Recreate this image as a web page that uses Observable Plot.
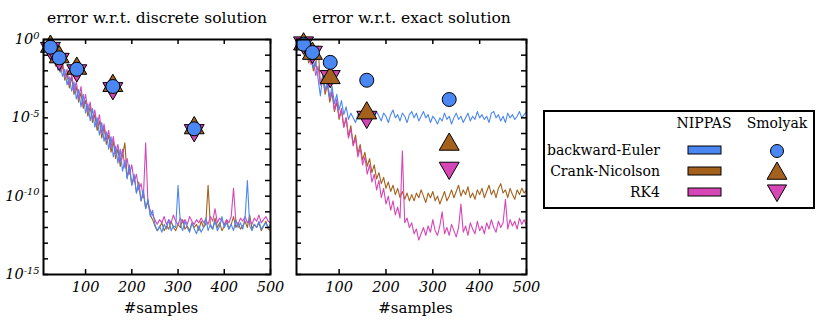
<!DOCTYPE html>
<html><head><meta charset="utf-8">
<script src="https://cdn.jsdelivr.net/npm/d3@7"></script>
<script src="https://cdn.jsdelivr.net/npm/@observablehq/plot@0.6"></script>
<style>
html,body{margin:0;padding:0;background:#fff;}
#wrap{position:relative;width:830px;height:324px;overflow:hidden;font-family:"DejaVu Serif",serif;}
#wrap svg{position:absolute;top:0;}
</style></head><body><div id="wrap"></div>
<script>
const FONT = "DejaVu Serif";
// sample counts (x grid of the NIPPAS curves)
const samples = d3.range(10, 501, 5);
// log10 of the error
const discBE = [-0.3,-0.45,-0.95,-0.7,-1.45,-1.1,-1.95,-1.5,-2.35,-1.9,
-2.9,-2.4,-3.3,-2.7,-3.8,-3.2,-4.3,-3.5,-4.7,-4.1,
-5.2,-4.4,-5.6,-5.0,-6.1,-5.3,-6.5,-5.9,-7.0,-6.2,
-7.5,-6.8,-7.9,-7.0,-8.4,-7.7,-8.9,-8.0,-9.3,-8.6,
-9.8,-9.2,-10.3,-9.6,-10.8,-10.2,-11.3,-10.9,-11.8,-12.2,
-11.9,-12.3,-11.8,-12.1,-11.5,-12.2,-11.9,-12.0,-9.3,-11.8,
-12.2,-11.6,-12.0,-12.3,-11.7,-12.1,-12.4,-11.9,-12.3,-12.0,
-11.4,-12.2,-11.8,-12.1,-11.6,-12.2,-11.9,-11.3,-12.0,-11.7,
-12.1,-11.8,-12.2,-11.5,-12.0,-11.7,-12.1,-11.4,-9.0,-11.9,
-12.2,-11.8,-12.0,-11.6,-12.1,-11.9,-11.7,-12.0,-11.8];
const discCN = [-0.2,-0.7,-0.5,-1.2,-0.9,-1.7,-1.2,-2.1,-1.7,-2.6,
-2.2,-3.1,-2.4,-3.5,-3.0,-4.0,-3.4,-4.4,-3.9,-4.9,
-4.3,-5.3,-4.8,-5.8,-5.2,-6.3,-5.6,-6.7,-6.1,-7.2,
-6.5,-7.6,-7.0,-8.1,-7.4,-6.6,-8.8,-8.2,-9.3,-8.7,
-9.8,-9.1,-10.3,-9.8,-10.8,-10.3,-11.2,-11.5,-11.9,-12.2,
-12.0,-11.7,-12.2,-11.9,-12.1,-11.6,-12.0,-12.2,-11.8,-12.0,
-11.5,-12.1,-11.9,-12.2,-11.7,-12.0,-11.8,-12.2,-11.6,-12.0,
-11.8,-9.3,-11.9,-12.1,-11.4,-12.0,-11.7,-12.2,-11.9,-11.5,
-12.1,-11.8,-11.3,-12.0,-11.7,-12.1,-11.9,-11.6,-12.0,-11.2,
-12.1,-11.8,-12.0,-11.7,-12.2,-11.9,-11.6,-12.1,-12.2];
const discRK = [-0.15,-0.6,-0.4,-1.1,-0.7,-1.6,-1.0,-2.0,-1.4,-2.4,
-1.9,-2.9,-2.2,-3.3,-2.7,-3.8,-3.0,-4.2,-3.5,-4.6,
-4.0,-5.1,-4.5,-5.5,-4.8,-6.0,-5.4,-6.4,-5.8,-6.9,
-6.2,-7.3,-6.7,-7.8,-7.0,-8.2,-7.6,-8.6,-8.0,-9.1,
-8.6,-9.6,-9.2,-10.1,-6.6,-10.5,-10.9,-11.2,-11.5,-11.8,
-11.5,-11.7,-11.3,-11.8,-11.5,-11.7,-11.2,-11.6,-11.8,-11.4,
-11.7,-11.5,-11.8,-11.3,-11.6,-11.8,-11.5,-11.7,-11.4,-11.7,
-11.5,-11.8,-11.3,-11.6,-10.8,-11.7,-11.4,-11.6,-11.8,-11.5,
-11.7,-11.3,-9.5,-11.6,-11.8,-11.4,-11.6,-11.3,-11.7,-11.5,
-11.8,-11.4,-11.6,-11.2,-11.7,-11.5,-11.3,-11.6,-11.7];
const exactBE = [-0.1,-0.4,-0.2,-0.8,-0.5,-1.3,-0.9,-1.8,-1.4,-2.5,
-3.6,-2.3,-3.2,-2.7,-3.7,-3.0,-4.1,-3.5,-4.5,-3.9,
-4.8,-4.3,-5.1,-4.7,-5.0,-5.3,-4.8,-5.0,-4.6,-5.1,
-4.9,-5.3,-4.7,-5.0,-4.6,-4.9,-5.2,-4.7,-4.9,-5.3,
-4.8,-4.5,-5.0,-4.8,-5.2,-4.7,-4.9,-5.3,-4.8,-4.6,
-5.0,-4.7,-5.2,-4.9,-4.6,-5.0,-4.8,-5.3,-4.9,-5.1,
-5.4,-5.0,-5.2,-4.7,-5.1,-4.9,-5.4,-5.0,-4.7,-5.1,
-4.9,-5.3,-5.0,-4.7,-5.2,-4.9,-5.1,-4.6,-5.0,-4.8,
-5.1,-4.9,-5.3,-4.7,-4.6,-5.0,-4.8,-5.2,-4.9,-5.3,
-4.7,-5.0,-4.8,-5.1,-4.9,-4.6,-5.0,-4.8,-4.6];
const exactCN = [-0.1,-0.5,-0.2,-1.0,-0.7,-1.5,-1.1,-2.0,-1.6,-0.4,
-2.9,-2.4,-3.5,-2.9,-4.0,-3.4,-4.6,-4.0,-5.1,-4.5,
-5.6,-5.0,-6.2,-5.5,-6.7,-6.1,-7.3,-6.7,-7.7,-7.2,
-8.1,-7.6,-8.5,-8.0,-8.9,-8.5,-9.2,-8.8,-9.5,-9.1,
-9.7,-9.3,-9.9,-9.5,-10.1,-9.7,-10.2,-9.8,-10.3,-9.9,
-10.3,-9.8,-10.1,-9.6,-10.0,-10.4,-9.8,-10.1,-9.7,-10.3,
-10.0,-10.5,-10.1,-9.7,-10.3,-10.0,-9.6,-10.1,-9.7,-9.3,
-10.0,-9.6,-9.9,-9.4,-10.1,-9.8,-10.2,-9.6,-9.9,-9.5,
-10.1,-9.7,-9.3,-9.9,-9.6,-10.1,-9.5,-9.2,-9.8,-9.6,
-10.1,-9.5,-9.9,-10.2,-9.6,-9.9,-9.5,-9.8,-9.6];
const exactRK = [-0.2,-0.05,-0.7,-0.4,-1.2,-0.9,-1.6,-1.2,-2.3,-1.7,
-2.9,-2.3,-3.3,-2.8,-3.8,-3.3,-4.5,-3.8,-5.0,-4.4,
-5.6,-5.0,-6.3,-5.7,-6.8,-6.3,-7.5,-6.9,-8.0,-7.5,
-8.6,-8.0,-9.1,-8.6,-9.6,-9.0,-10.1,-9.5,-10.5,-10.0,
-10.9,-10.3,-11.2,-10.7,-11.4,-7.1,-11.7,-11.4,-12.0,-11.7,
-12.4,-12.1,-12.8,-12.4,-12.0,-12.5,-11.9,-12.3,-11.5,-12.2,
-12.5,-11.9,-11.0,-12.4,-12.0,-12.5,-11.8,-12.2,-12.6,-12.0,
-10.5,-12.3,-11.9,-12.5,-11.7,-12.1,-12.4,-11.6,-12.2,-11.9,
-12.4,-11.7,-12.1,-11.5,-12.0,-12.3,-11.6,-12.0,-11.7,-10.2,
-12.1,-11.5,-11.9,-11.6,-12.1,-11.4,-11.8,-11.5,-11.9];
// Smolyak points
const smolyakN = [24, 43, 81, 159, 335];
const discSmolBE = [-0.49, -1.17, -1.9, -3.0, -5.7];
const discSmolCN = [-0.45, -1.12, -1.85, -2.95, -5.65];
const discSmolRK = [-0.55, -1.25, -1.98, -3.12, -5.8];
const exactSmolBE = [-0.3, -0.83, -1.46, -2.6, -3.83];
const exactSmolCN = [-0.3, -0.9, -2.45, -4.7, -6.7];
const exactSmolRK = [-0.2, -0.8, -2.35, -4.95, -8.2];
// ticks and labels
const xTicks = [100, 200, 300, 400, 500];
const yDecades = [0,-1,-2,-3,-4,-5,-6,-7,-8,-9,-10,-11,-12,-13,-14,-15];
const yLabelExp = [0, -5, -10, -15];
const methods = ["backward-Euler", "Crank-Nicolson", "RK4"];
const colors = ["#4b87f2", "#a3611d", "#d746b6"];
const titles = ["error w.r.t. discrete solution", "error w.r.t. exact solution"];

const triangleDown = {
  draw(ctx, size) {
    const y = -Math.sqrt(size / (Math.sqrt(3) * 3));
    ctx.moveTo(0, -2 * y);
    ctx.lineTo(-Math.sqrt(3) * y, y);
    ctx.lineTo(Math.sqrt(3) * y, y);
    ctx.closePath();
  }
};

const toRows = (xs, es) => xs.map((x, i) => ({x, y: Math.pow(10, es[i])}));

function panel(title, curves, smol, left, width, showY) {
  const mT = 39, mB = 50, mL = 43, mR = 10, H = 324;
  const ph = H - mT - mB, pw = width - mL - mR;
  const [sBE, sCN, sRK] = smol;
  const svg = Plot.plot({
    width, height: H, marginLeft: mL, marginRight: mR, marginTop: mT, marginBottom: mB,
    style: {background: "transparent", fontFamily: FONT, fontSize: "15px", color: "black", overflow: "visible"},
    x: {domain: [9, 500], ticks: xTicks, tickSize: 0, tickPadding: 7, label: null},
    y: {type: "log", domain: [1e-15, 1], ticks: showY ? yLabelExp.map(e => Math.pow(10, e)) : [],
        tickSize: 0, tickPadding: 4, label: null,
        tickFormat: d => "10^" + Math.round(Math.log10(d))},
    marks: [
      Plot.line(toRows(samples, curves[1]), {x: "x", y: "y", stroke: colors[1], strokeWidth: 1.1}),
      Plot.line(toRows(samples, curves[2]), {x: "x", y: "y", stroke: colors[2], strokeWidth: 1.1}),
      Plot.line(toRows(samples, curves[0]), {x: "x", y: "y", stroke: colors[0], strokeWidth: 1.1}),
      Plot.dot(toRows(smolyakN, sRK), {x: "x", y: "y", symbol: triangleDown, r: 7.4, fill: colors[2], stroke: "black", strokeWidth: 1}),
      Plot.dot(toRows(smolyakN, sCN), {x: "x", y: "y", symbol: "triangle", r: 7.4, fill: colors[1], stroke: "black", strokeWidth: 1}),
      Plot.dot(toRows(smolyakN, sBE), {x: "x", y: "y", symbol: "circle", r: 7, fill: colors[0], stroke: "black", strokeWidth: 1}),
      Plot.ruleX(xTicks, {insetTop: ph - 5, stroke: "black", strokeWidth: 1.5}),
      Plot.ruleX(xTicks, {insetBottom: ph - 5, stroke: "black", strokeWidth: 1.5}),
      Plot.ruleY(yDecades.map(e => Math.pow(10, e)), {insetRight: pw - 5, stroke: "black", strokeWidth: 1.5}),
      Plot.ruleY(yDecades.map(e => Math.pow(10, e)), {insetLeft: pw - 5, stroke: "black", strokeWidth: 1.5}),
      Plot.frame({stroke: "black", strokeWidth: 2}),
      Plot.text([title], {text: d => d, frameAnchor: "top", lineAnchor: "bottom", dy: -17, fontSize: 15.5, fontFamily: FONT}),
      Plot.text(["#samples"], {text: d => d, frameAnchor: "bottom", lineAnchor: "bottom", dy: 38, dx: 4, fontSize: 15, fontFamily: FONT})
    ]
  });
  const s = d3.select(svg);
  s.selectAll('g[aria-label^="x-axis"] text, g[aria-label^="y-axis"] text')
    .style("font-family", FONT).style("font-size", "14.5px").style("font-style", "italic");
  s.selectAll("text").each(function() {
    const m = /^10\^(-?\d+)$/.exec(this.textContent);
    if (m) {
      this.textContent = "10";
      d3.select(this).append("tspan").attr("dy", "-0.55em").attr("font-size", "0.68em").text(m[1]);
    }
  });
  svg.style.left = left + "px";
  svg.style.position = "absolute";
  return svg;
}

const wrap = document.getElementById("wrap");
wrap.appendChild(panel(titles[0], [discBE, discCN, discRK], [discSmolBE, discSmolCN, discSmolRK], 0, 280, true));
wrap.appendChild(panel(titles[1], [exactBE, exactCN, exactRK], [exactSmolBE, exactSmolCN, exactSmolRK], 253, 283, false));

// legend
const L = d3.create("svg").attr("width", 830).attr("height", 324)
  .style("position", "absolute").style("left", "0px").style("top", "0px")
  .attr("font-family", FONT).attr("font-size", 14);
L.append("rect").attr("x", 544).attr("y", 111).attr("width", 270).attr("height", 97)
  .attr("fill", "white").attr("stroke", "black").attr("stroke-width", 2);
L.append("text").attr("x", 704).attr("y", 128).attr("text-anchor", "middle").text("NIPPAS");
L.append("text").attr("x", 777).attr("y", 128).attr("text-anchor", "middle").text("Smolyak");
const rowY = [150, 171, 192];
methods.forEach((m, i) => {
  L.append("text").attr("x", 660).attr("y", rowY[i] + 5).attr("text-anchor", "end").text(m);
  L.append("rect").attr("x", 688).attr("y", rowY[i] - 4).attr("width", 33).attr("height", 8)
    .attr("fill", colors[i]).attr("stroke", "black").attr("stroke-width", 1);
});
L.append("circle").attr("cx", 777).attr("cy", 151).attr("r", 6.5).attr("fill", colors[0]).attr("stroke", "black");
L.append("path").attr("d", d3.symbol(d3.symbolTriangle, 172)()).attr("transform", "translate(777,173.5)")
  .attr("fill", colors[1]).attr("stroke", "black");
L.append("path").attr("d", d3.symbol(triangleDown, 160)()).attr("transform", "translate(777,190.5)")
  .attr("fill", colors[2]).attr("stroke", "black");
wrap.appendChild(L.node());
</script></body></html>
